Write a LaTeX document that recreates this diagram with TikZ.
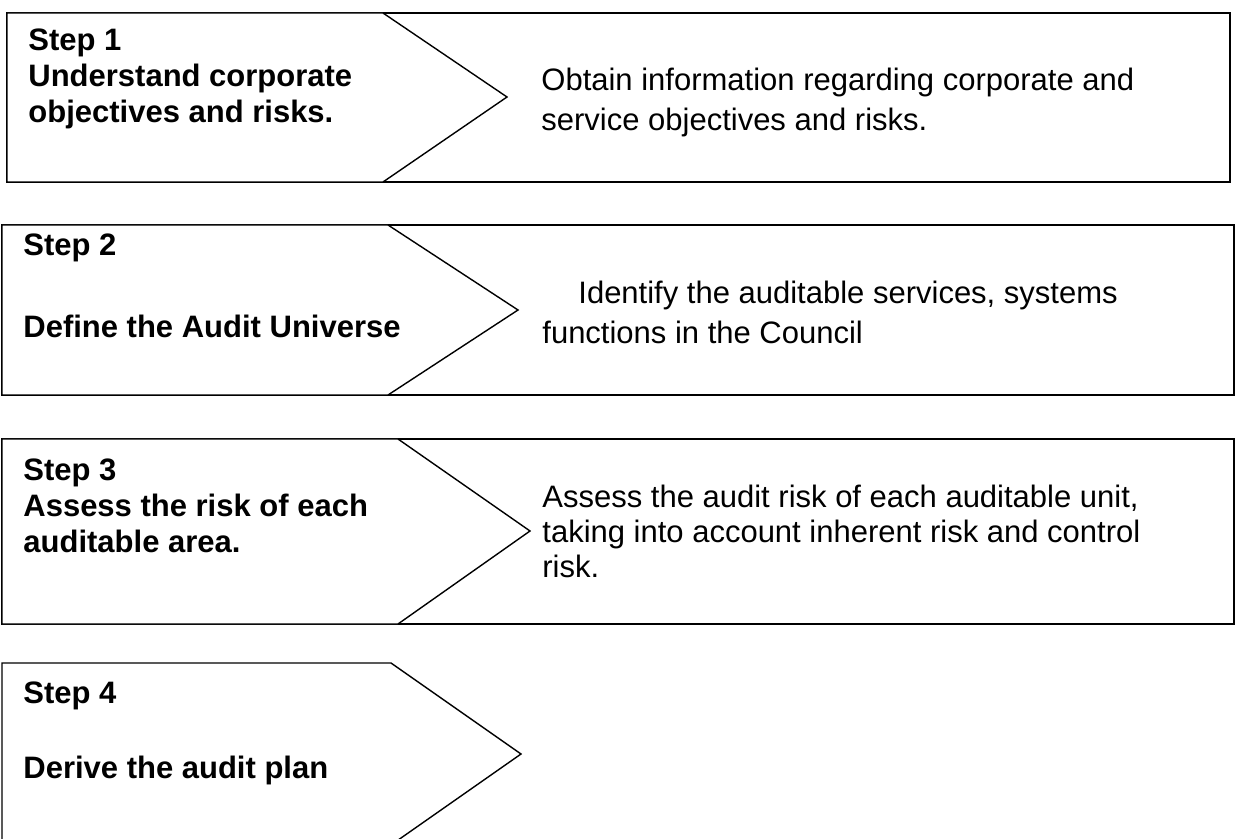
\documentclass[tikz,border=0pt]{standalone}
\usepackage{fontspec}
\setmainfont{Liberation Sans}
\begin{document}
\begin{tikzpicture}[x=0.5pt, y=-0.5pt,
  stepbox/.style={draw, fill=white, line width=0.7pt, line join=miter},
  descbox/.style={draw, line width=0.8pt},
  steplabel/.style={anchor=north west, inner sep=0pt, align=left, font=\fontsize{15.5}{18}\selectfont\bfseries},
  desclabel/.style={anchor=north west, inner sep=0pt, align=left, font=\fontsize{15.5}{20}\selectfont}]
\clip (0,0) rectangle (1243,839);
\fill[white] (0,0) rectangle (1243,839);
% step 1
\draw[descbox] (7,13) rectangle (1230,182);
\draw[stepbox] (7,13) -- (383,13) -- (507,97) -- (383,182) -- (7,182) -- cycle;
\node[steplabel] (s1) at (28,28) {Step 1\\Understand corporate\\objectives and risks.};
\node[desclabel] (d1) at (541,68) {Obtain information regarding corporate and\\service objectives and risks.};
% step 2
\draw[descbox] (2,225) rectangle (1234,395);
\draw[stepbox] (2,225) -- (388,225) -- (518,310) -- (388,395) -- (2,395) -- cycle;
\node[steplabel] (s2) at (23,233) {Step 2\\[23pt]Define the Audit Universe};
\node[desclabel] (d2) at (542,281) {\hspace*{18pt}Identify the auditable services, systems\\functions in the Council};
% step 3
\draw[descbox] (2,439) rectangle (1234,624);
\draw[stepbox] (2,439) -- (398,439) -- (530,531) -- (398,624) -- (2,624) -- cycle;
\node[steplabel] (s3) at (23,458) {Step 3\\Assess the risk of each\\auditable area.};
\node[desclabel, font=\fontsize{15.5}{17.5}\selectfont] (d3) at (542,485) {Assess the audit risk of each auditable unit,\\taking into account inherent risk and control\\risk.};
% step 4
\draw[stepbox] (2,663) -- (391,663) -- (521,754) -- (391,845) -- (2,845) -- cycle;
\node[steplabel] (s4) at (23,681) {Step 4\\[19.5pt]Derive the audit plan};
\end{tikzpicture}
\end{document}
